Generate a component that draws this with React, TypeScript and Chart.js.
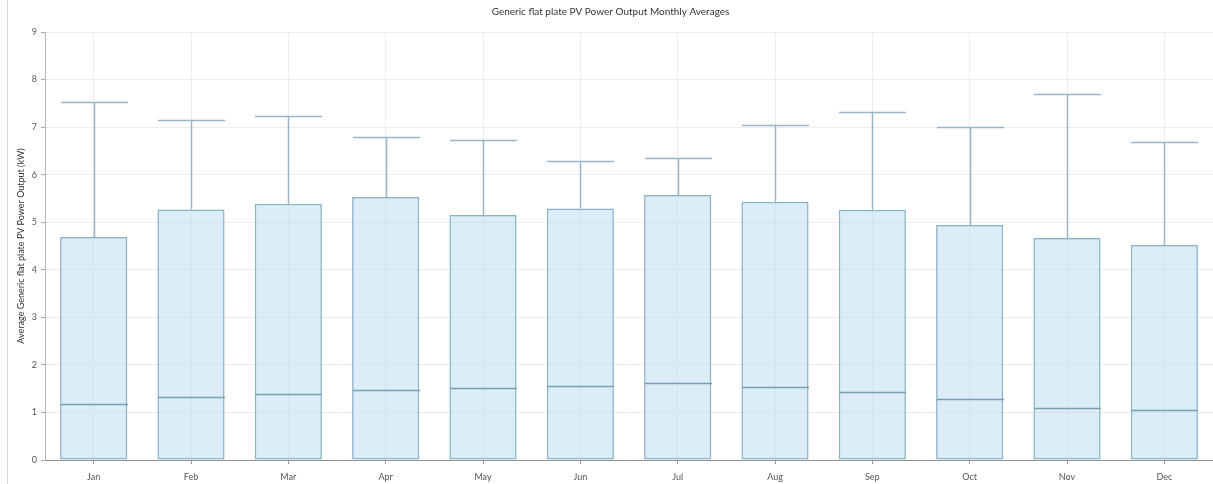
import React, { useEffect, useRef } from "react";
import { Chart, registerables } from "chart.js";

Chart.register(...registerables);

// Monthly distribution of average PV output (kW)
const months = ["Jan", "Feb", "Mar", "Apr", "May", "Jun", "Jul", "Aug", "Sep", "Oct", "Nov", "Dec"];
const minValues = [0, 0, 0, 0, 0, 0, 0, 0, 0, 0, 0, 0];
const medianValues = [1.17, 1.32, 1.39, 1.48, 1.52, 1.55, 1.62, 1.53, 1.44, 1.28, 1.09, 1.05];
const upperQuartile = [4.69, 5.27, 5.39, 5.53, 5.15, 5.29, 5.57, 5.43, 5.26, 4.94, 4.67, 4.52];
const maxValues = [7.52, 7.16, 7.23, 6.79, 6.72, 6.28, 6.34, 7.04, 7.32, 7.0, 7.7, 6.68];
const yTicks = [0, 1, 2, 3, 4, 5, 6, 7, 8, 9];

const titleText = "Generic flat plate PV Power Output Monthly Averages";
const yTitleText = "Average Generic flat plate PV Power Output (kW)";

const FONT = "Lato, 'Open Sans', sans-serif";
const BOX_FILL = "rgba(186, 220, 240, 0.5)";
const BOX_EDGE = "#8ab3c6";
const MEDIAN_EDGE = "#78a0b3";
const WHISKER = "#97b7c7";

// Draws the median line and the upper whisker with its cap on top of each box
const boxExtrasPlugin = {
  id: "boxExtras",
  afterDatasetsDraw(chart: any) {
    const meta = chart.getDatasetMeta(0);
    const y = chart.scales.y;
    const ctx = chart.ctx;
    ctx.save();
    meta.data.forEach((bar: any, i: number) => {
      const props = bar.getProps(["x", "width"], true);
      const cx = Math.round(props.x) + 0.5;
      const half = props.width / 2;
      const yMed = Math.round(y.getPixelForValue(medianValues[i])) + 0.5;
      const yQ3 = y.getPixelForValue(upperQuartile[i]);
      const yMax = Math.round(y.getPixelForValue(maxValues[i])) + 0.5;

      ctx.lineWidth = 1.5;
      ctx.strokeStyle = MEDIAN_EDGE;
      ctx.beginPath();
      ctx.moveTo(cx - half, yMed);
      ctx.lineTo(cx + half, yMed);
      ctx.stroke();

      ctx.strokeStyle = WHISKER;
      ctx.lineWidth = 1.5;
      ctx.beginPath();
      ctx.moveTo(cx, yQ3);
      ctx.lineTo(cx, yMax);
      ctx.moveTo(cx - half, yMax);
      ctx.lineTo(cx + half, yMax);
      ctx.stroke();
    });
    ctx.restore();
  },
};

export default function App() {
  const canvasRef = useRef<HTMLCanvasElement | null>(null);

  useEffect(() => {
    if (!canvasRef.current) return;
    const chart = new Chart(canvasRef.current, {
      type: "bar",
      data: {
        labels: months,
        datasets: [
          {
            label: "Output",
            data: months.map((_, i) => [minValues[i], upperQuartile[i]]) as any,
            backgroundColor: BOX_FILL,
            borderColor: BOX_EDGE,
            borderWidth: 1.5,
            borderSkipped: false,
            barPercentage: 0.69,
            categoryPercentage: 1,
          },
        ],
      },
      options: {
        responsive: false,
        animation: false,
        layout: { padding: { left: 0, right: 0, top: 0, bottom: 0 } },
        plugins: {
          legend: { display: false },
          tooltip: { enabled: false },
          title: {
            display: true,
            text: titleText,
            color: "#333",
            font: { family: FONT, size: 10, weight: "normal" },
            padding: { top: 6, bottom: 14 },
          },
        },
        scales: {
          x: {
            offset: true,
            grid: {
              offset: false,
              color: "#ececec",
              tickColor: "#9a9a9a",
              tickLength: 4,
              drawTicks: true,
            },
            border: { color: "#8f8f8f", width: 1 },
            ticks: {
              color: "#555",
              font: { family: FONT, size: 9 },
              padding: 8,
              maxRotation: 0,
            },
            afterFit(scale: any) {
              scale.height = 24;
            },
          },
          y: {
            min: 0,
            max: 9,
            afterBuildTicks(scale: any) {
              scale.ticks = yTicks.map((v) => ({ value: v }));
            },
            grid: {
              color: "#ececec",
              tickColor: "#a8a8a8",
              tickLength: 4,
            },
            border: { color: "#b5b5b5", width: 1 },
            ticks: {
              color: "#555",
              font: { family: FONT, size: 9 },
              padding: 4,
            },
            title: {
              display: true,
              text: yTitleText,
              color: "#333",
              font: { family: FONT, size: 9 },
              padding: { top: 8, bottom: 2 },
            },
            afterFit(scale: any) {
              scale.width = 37;
            },
          },
        },
      },
      plugins: [boxExtrasPlugin],
    });
    return () => chart.destroy();
  }, []);

  return (
    <div style={{ position: "absolute", left: 0, top: 0, width: 1213, height: 484, background: "#fff" }}>
      <div
        style={{
          position: "absolute",
          left: 7,
          top: 0,
          width: 1206,
          height: 484,
          borderLeft: "1px solid #d8d8d8",
        }}
      >
        <canvas ref={canvasRef} width={1205} height={484} style={{ display: "block" }} />
      </div>
    </div>
  );
}
